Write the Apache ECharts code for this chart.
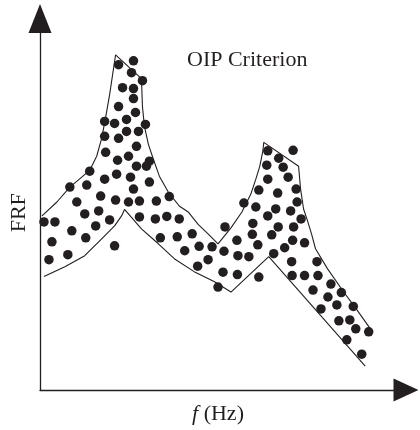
<!DOCTYPE html>
<html>
<head>
<meta charset="utf-8">
<script src="https://cdn.jsdelivr.net/npm/echarts@6/dist/echarts.min.js"></script>
<style>
html,body{margin:0;padding:0;background:#fff;}
#chart{width:420px;height:430px;}
</style>
</head>
<body>
<div id="chart"></div>
<script>
// Measured FRF scatter points (frequency units, FRF units)
const measuredFreq = [4,15,12,9,28,32,30,37,45,46,50,47,59,56,61,65,65,65,66,70,76,75,77,78,75,79,79,79,83,89,89,87,87,91,92,94,94,94,96,94,97,97,99,100,100,103,106,107,110,110,117,116,121,127.5,130,138,140,145.5,153,158.5,160,169,173,179,184,185,186,198.5,199,198,205,210,213.5,214,217,219,220,220,229,229,229,228,235,233,237,239,239.5,240,244.5,246,249.5,252,253,253.5,254,254.5,255,257.5,258.5,262.5,266,266,274.5,278.5,279.5,282.5,292.5,289.5,300.5,298.5,303,308.5,311.5,315,317.5,323.5,330.5];
const measuredFRF = [169,169,149,131,136,160,204,189,177,153,220,206,180,165,195,212,270,255,239,171,191,145,217,231,268,253,285,327,304,189,235,260,272,214,319,331,303,293,279,202,245,225,260,190,174,311,267,225,230,209,190,172,153,174.5,194.5,154,172,140,157,124.5,144.5,131,144,103.5,118.5,139.5,164,116,135,150.5,188,134,156.5,167.5,184,146,113.5,201,175,240.5,212,226,137,156,182,198,164,233,224,143,214,180,129,115,150.5,241,164,202,189,172,115,148,100.5,129,115,81.5,106.5,93.5,69.5,85.5,98,50.5,70.5,84,61.5,36,58.5];

// Upper envelope
const upperFreq = [2,17,30,42,50,57,62,66,70,73,76,102,103,105,109,114,120,129,140,149,159,169,179,192,203,212,217,221,224,225,260,262,265,269,273,277,289,305,319,334];
const upperFRF = [175,189,204,214,221,235,253,274,297,317,337,313,285,265,247,232,215,199,185,179,166.5,157,147,163,179,197,212,225,240,249,225,202,182,170,157,142,122,99,80,59];

// Lower envelope
const lowerFreq = [4,25,45,62,75,82,85,102,119,135,155,175,192,230,327];
const lowerFRF = [114,124,135,152,165,175,181.5,162,147,132,119,109,98.5,134,24];

// Labels
const titleText = 'OIP Criterion';
const xName = '{i|f} (Hz)';
const yName = 'FRF';

const ink = '#231f20';
const serif = '"Liberation Serif","Times New Roman",serif';

const pair = (xs, ys) => xs.map((v, i) => [v, ys[i]]);

const chart = echarts.init(document.getElementById('chart'), null, {renderer: 'canvas'});
chart.setOption({
  animation: false,
  backgroundColor: '#fff',
  title: {
    text: titleText,
    left: 187,
    top: 49,
    padding: 0,
    textStyle: {fontFamily: serif, fontSize: 22, fontWeight: 'normal', color: ink}
  },
  grid: {left: 38, right: 14, top: 18.5, bottom: 38, containLabel: false},
  xAxis: {
    type: 'value',
    min: 0, max: 368,
    name: xName,
    nameLocation: 'middle',
    nameGap: 13,
    nameTextStyle: {
      fontFamily: serif, fontSize: 22, color: ink, padding: [0, 10, 0, 0],
      rich: {i: {fontFamily: serif, fontSize: 22, fontStyle: 'italic', color: ink}}
    },
    axisLine: {show: true, symbol: ['none', 'triangle'], symbolSize: [23, 25],
      lineStyle: {color: ink, width: 1.3}},
    axisTick: {show: false},
    axisLabel: {show: false},
    splitLine: {show: false}
  },
  yAxis: {
    type: 'value',
    min: 0, max: 373.5,
    name: yName,
    nameLocation: 'middle',
    nameRotate: 90,
    nameGap: 10,
    nameTextStyle: {fontFamily: serif, fontSize: 22, color: ink, padding: [0, 17, 0, 0]},
    axisLine: {show: true, symbol: ['none', 'triangle'], symbolSize: [23, 29],
      lineStyle: {color: ink, width: 1.3}},
    axisTick: {show: false},
    axisLabel: {show: false},
    splitLine: {show: false}
  },
  series: [
    {
      type: 'line', data: pair(upperFreq, upperFRF), showSymbol: false, silent: true,
      lineStyle: {color: ink, width: 1.1}, z: 1
    },
    {
      type: 'line', data: pair(lowerFreq, lowerFRF), showSymbol: false, silent: true,
      lineStyle: {color: ink, width: 1.1}, z: 1
    },
    {
      type: 'scatter', data: pair(measuredFreq, measuredFRF), symbol: 'circle', symbolSize: 9.5,
      itemStyle: {color: ink, opacity: 1}, z: 2
    }
  ]
});
</script>
</body>
</html>
